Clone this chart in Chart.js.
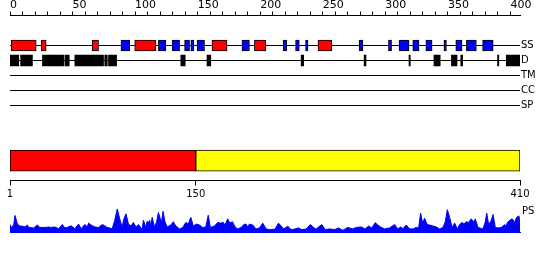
<!DOCTYPE html>
<html>
<head>
<meta charset="utf-8">
<script src="https://cdn.jsdelivr.net/npm/chart.js@4.4.0/dist/chart.umd.min.js"></script>
<style>
  body { margin: 0; background: #fff; }
  #wrap { position: relative; width: 550px; height: 260px; }
  canvas { position: absolute; left: 0; }
</style>
</head>
<body>
<div id="wrap">
  <canvas id="tracks" width="550" height="205" style="top:0"></canvas>
  <canvas id="profile" width="550" height="40" style="top:200px"></canvas>
</div>
<script>
// sequence + feature tracks (residue ranges)
const seqLength = 410;
const trackNames = ['SS', 'D', 'TM', 'CC', 'SP'];
const helices = [[2, 22], [26, 30], [67, 72], [101, 118], [163, 175], [197, 206], [248, 259]];
const strands = [[90, 97], [120, 126], [131, 137], [141, 145], [146, 148.5], [151, 157], [187, 193],
  [220, 223], [230, 233], [238, 240], [281, 284], [304.5, 307], [313, 321], [324, 329],
  [334.5, 339.5], [349, 351], [358.5, 363.5], [367, 375], [380, 388.5]];
const disorder = [[1, 8], [9.5, 19], [27, 44], [45, 48.5], [53, 76], [77, 79], [80, 86.5],
  [138, 141.5], [159, 162], [234.5, 236.5], [285, 286.5], [321, 322], [341, 346],
  [355, 359.5], [362.5, 364], [392, 393], [399, 410]];
const domains = [[1, 150], [150, 410]];
const domainTicks = [1, 150, 410];

// PS profile (residue, score)
const psResidue = [1, 2, 4, 5, 7, 9, 11, 13, 15, 16, 20, 23, 25, 29, 32, 34, 37, 40, 43, 45,
  47, 50, 53, 56, 58, 61, 63, 64, 66, 69, 72, 75, 77, 79, 83, 85, 87, 89, 91, 92,
  94, 96, 98, 100, 102, 104, 107, 108, 110, 111, 112, 113, 114, 115, 117, 118.6, 120, 121.6, 122.6, 123.7,
  125.3, 127, 130, 132, 134, 137, 139.5, 142, 144, 146, 148, 150.5, 153, 155.5, 158, 160, 161.7, 165, 167.6, 170,
  172, 173.4, 175.6, 177.2, 179.4, 181.5, 183.6, 186.3, 188.5, 190.3, 191.7, 193, 195.7, 198.3, 201.1, 203.7, 206.4, 209.1, 210.4, 213.6,
  216.3, 218.4, 220.6, 223.8, 226.4, 229.2, 232.4, 235, 238.5, 242, 244.7, 246.5, 248.4, 251.1, 253.7, 257.3, 261.3, 264.5, 267.9, 271.9,
  275.9, 278.6, 282.6, 285.8, 288.6, 291.2, 293.9, 296, 298.2, 301.4, 305.4, 309.4, 312.1, 314.3, 316.1, 318.8, 321.5, 324.1, 326.8, 328.7,
  330.3, 331.9, 333.5, 335.6, 337.6, 340.2, 342.9, 345.6, 348.2, 350.1, 351.7, 353.6, 355.5, 357.6, 359.7, 361.6, 363.5, 365.1, 366.9, 368.8,
  370.9, 373.1, 374.1, 376.3, 380.3, 382.2, 383.3, 384.9, 387, 388.4, 390.2, 392.4, 395, 397.8, 398.8, 399.9, 401.8, 403.7, 405.9, 407.2,
  409.1, 410];
const psScore = [0.32, 0.18, 0.31, 0.69, 0.32, 0.25, 0.24, 0.21, 0.29, 0.19, 0.17, 0.29, 0.19, 0.19, 0.21, 0.19, 0.21, 0.14, 0.31, 0.17,
  0.19, 0.26, 0.14, 0.33, 0.14, 0.31, 0.21, 0.37, 0.29, 0.21, 0.19, 0.31, 0.26, 0.19, 0.14, 0.49, 0.96, 0.55, 0.19, 0.49,
  0.76, 0.33, 0.25, 0.40, 0.21, 0.31, 0.10, 0.49, 0.19, 0.45, 0.37, 0.49, 0.25, 0.61, 0.19, 0.43, 0.81, 0.55, 0.43, 0.86,
  0.43, 0.21, 0.29, 0.43, 0.25, 0.13, 0.19, 0.40, 0.33, 0.61, 0.25, 0.33, 0.29, 0.19, 0.21, 0.70, 0.19, 0.25, 0.40, 0.37,
  0.40, 0.29, 0.55, 0.37, 0.43, 0.21, 0.13, 0.19, 0.31, 0.33, 0.21, 0.33, 0.29, 0.13, 0.17, 0.37, 0.13, 0.10, 0.10, 0.12,
  0.37, 0.25, 0.13, 0.24, 0.10, 0.12, 0.17, 0.10, 0.12, 0.31, 0.17, 0.12, 0.21, 0.31, 0.10, 0.13, 0.10, 0.17, 0.07, 0.19,
  0.13, 0.19, 0.21, 0.13, 0.25, 0.17, 0.39, 0.29, 0.21, 0.13, 0.17, 0.31, 0.13, 0.21, 0.14, 0.29, 0.13, 0.13, 0.19, 0.17,
  0.79, 0.37, 0.57, 0.31, 0.29, 0.25, 0.21, 0.13, 0.19, 0.43, 0.93, 0.61, 0.19, 0.37, 0.13, 0.31, 0.40, 0.33, 0.43, 0.40,
  0.55, 0.40, 0.55, 0.19, 0.13, 0.43, 0.79, 0.29, 0.49, 0.73, 0.19, 0.17, 0.19, 0.31, 0.24, 0.40, 0.49, 0.55, 0.40, 0.61,
  0.67, 0.43];

Chart.defaults.font.family = "'DejaVu Sans', sans-serif";
Chart.defaults.font.size = 10;
Chart.defaults.color = '#000';

// vertical slots on the track chart (y axis is in "row" units, 15px each)
const ROW_START = 2;
const DOMAIN_ROW = 9.67;
const rowOf = name => ROW_START + trackNames.indexOf(name);

const segs = (list, row) => list.map(([a, b]) => ({ x: [a, b], y: row }));

const trackLines = trackNames.map(name => ({
  type: 'line',
  data: [{ x: 1, y: rowOf(name) }, { x: seqLength, y: rowOf(name) }],
  borderColor: '#000',
  borderWidth: 1,
  pointRadius: 0,
  xAxisID: 'x',
  yAxisID: 'y',
  order: 2
}));

const boxDefaults = { type: 'bar', xAxisID: 'x', yAxisID: 'y', order: 1, borderSkipped: false, grouped: false };

new Chart(document.getElementById('tracks'), {
  data: {
    datasets: [
      ...trackLines,
      { ...boxDefaults, data: segs(helices, rowOf('SS')), backgroundColor: '#ff0000', borderColor: '#000', borderWidth: 1, barThickness: 11 },
      { ...boxDefaults, data: segs(strands, rowOf('SS')), backgroundColor: '#0000ff', borderColor: '#000', borderWidth: 1, barThickness: 11 },
      { ...boxDefaults, data: segs(disorder, rowOf('D')), backgroundColor: '#000', borderWidth: 0, barThickness: 11 },
      { ...boxDefaults, data: segs(domains, DOMAIN_ROW), backgroundColor: ['#ff0000', '#ffff00'], borderColor: '#000', borderWidth: 1, barThickness: 21 }
    ]
  },
  options: {
    responsive: false,
    animation: false,
    indexAxis: 'y',
    layout: { padding: { left: 10, right: 0, top: 0, bottom: 0 } },
    plugins: { legend: { display: false }, tooltip: { enabled: false } },
    scales: {
      xTop: {
        type: 'linear',
        position: 'top',
        min: 0,
        max: 407.6,
        afterBuildTicks: s => {
          s.ticks = [];
          for (let v = 0; v <= 400; v += 10) s.ticks.push({ value: v });
        },
        afterFit: s => { s.height = 15.5; },
        grid: { display: true, drawOnChartArea: false, drawTicks: true, tickLength: 4, color: '#000' },
        border: { display: true, color: '#000' },
        ticks: {
          autoSkip: false,
          maxRotation: 0,
          align: 'start',
          padding: 0,
          font: { size: 11 },
          callback: v => (v % 50 === 0 ? String(v) : '')
        }
      },
      x: {
        type: 'linear',
        position: 'bottom',
        min: 1,
        max: seqLength,
        afterBuildTicks: s => { s.ticks = domainTicks.map(v => ({ value: v })); },
        afterFit: s => { s.height = 24.5; },
        grid: { display: true, drawOnChartArea: false, drawTicks: true, tickLength: 5, color: '#000' },
        border: { display: true, color: '#000' },
        ticks: { autoSkip: false, maxRotation: 0, padding: 3 }
      },
      y: {
        type: 'linear',
        position: 'right',
        reverse: true,
        offset: false,
        min: 0,
        max: 11,
        afterBuildTicks: s => { s.ticks = trackNames.map(n => ({ value: rowOf(n) })); },
        afterFit: s => { s.width = 30; },
        grid: { display: false, drawTicks: false, offset: false },
        border: { display: false },
        ticks: { padding: 1, callback: (v, i) => trackNames[i] }
      }
    }
  }
});

new Chart(document.getElementById('profile'), {
  type: 'line',
  data: {
    datasets: [{
      data: psResidue.map((r, i) => ({ x: r, y: psScore[i] })),
      borderColor: '#0000ff',
      backgroundColor: '#0000ff',
      borderWidth: 1,
      pointRadius: 0,
      fill: 'origin',
      tension: 0
    }]
  },
  options: {
    responsive: false,
    animation: false,
    layout: { padding: { left: 10, right: 0, top: 7.5, bottom: 4.5 } },
    plugins: { legend: { display: false }, tooltip: { enabled: false } },
    scales: {
      x: {
        type: 'linear',
        min: 1,
        max: seqLength,
        grid: { display: false, drawTicks: false },
        ticks: { display: false, padding: 0 },
        border: { display: true, color: '#0000ff' }
      },
      y: {
        position: 'right',
        min: 0,
        max: 1,
        afterBuildTicks: s => { s.ticks = [{ value: 0.86 }]; },
        afterFit: s => { s.width = 30; },
        grid: { display: false, drawTicks: false },
        border: { display: false },
        ticks: { padding: 2, callback: () => 'PS' }
      }
    }
  }
});
</script>
</body>
</html>
